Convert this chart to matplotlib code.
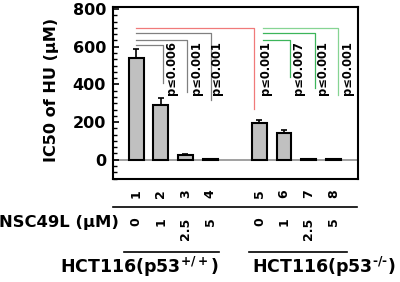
import matplotlib
matplotlib.use("Agg")
import matplotlib.pyplot as plt
from matplotlib.ticker import MultipleLocator, AutoMinorLocator
from matplotlib.lines import Line2D

plt.rcParams["font.family"] = "DejaVu Sans"
plt.rcParams["font.weight"] = "bold"
plt.rcParams["mathtext.default"] = "bf"

# dati
bar_ids = ["1", "2", "3", "4", "5", "6", "7", "8"]
conc = ["0", "1", "2.5", "5", "0", "1", "2.5", "5"]
ic50 = [542, 292, 23, 2, 197, 144, 2, 2]
err = [43, 38, 9, 0, 16, 12, 0, 0]
gruppi = ["HCT116(p53$^{+/+}$)", "HCT116(p53$^{‐/‐}$)"]

# parentesi di significativita'
p_txt = ["p≤0.006", "p≤0.001", "p≤0.001", "p≤0.001", "p≤0.007", "p≤0.001", "p≤0.001"]
brk_x0 = [1, 1, 1, 1, 6.15, 6.15, 6.15]
brk_x1 = [2.09, 3.07, 4.05, 5.77, 7.26, 8.24, 9.18]
brk_top = [608, 638, 670, 700, 638, 670, 700]
brk_bot = [407, 360, 315, 271, 439, 383, 342]
txt_x = [2.45, 3.46, 4.27, 6.24, 7.59, 8.54, 9.56]
brk_col = ["#808080", "#808080", "#808080", "#f07a7a",
           "#3cb55a", "#3cb55a", "#86d493"]

W, H = 400, 282
fig = plt.figure(figsize=(W / 100, H / 100), dpi=100)
ax = fig.add_axes([113 / W, 1 - 179 / H, 245 / W, 172.3 / H])

xpos = [i + 1 + (i >= 4) for i in range(len(ic50))]
ax.axhline(0, color="#909090", lw=1.2, zorder=1)
ax.bar(xpos, ic50, width=0.6, color="#c0c0c0", edgecolor="black",
       linewidth=1.5, zorder=3)
ax.errorbar(xpos, ic50, yerr=[[0] * len(err), err], fmt="none",
            ecolor="black", elinewidth=1.2, capsize=2.5, capthick=1.2, zorder=2)

for x0, x1, yt, yb, c, t, tx in zip(brk_x0, brk_x1, brk_top, brk_bot,
                                   brk_col, p_txt, txt_x):
    ax.plot([x0, x1, x1], [yt, yt, yb], color=c, lw=0.9, zorder=2)
    ax.text(tx, 628, t, rotation=90, ha="center", va="top",
            fontsize=8.3, fontweight="bold")

ax.set_xlim(0.06, 10.0)
ax.set_ylim(-102, 812)
ax.set_xticks([])
ax.yaxis.set_major_locator(MultipleLocator(200))
ax.yaxis.set_minor_locator(AutoMinorLocator(6))
ax.tick_params(axis="y", which="both", direction="in", labelsize=11.5, pad=5)
ax.tick_params(axis="y", which="major", length=4, width=1.2)
ax.tick_params(axis="y", which="minor", length=3, width=1.0)
for s in ax.spines.values():
    s.set_linewidth(1.5)
for lab in ax.get_yticklabels():
    lab.set_fontweight("bold")

ax.set_ylabel("IC50 of HU (μM)", fontsize=11.6, fontweight="bold")
ax.yaxis.set_label_coords(-0.222, 0.515)

# etichette sotto l'asse
tr = ax.get_xaxis_transform()
for x, b, c in zip(xpos, bar_ids, conc):
    ax.text(x, -0.06, b, transform=tr, rotation=90, ha="center", va="top",
            fontsize=9, fontweight="bold")
    ax.text(x, -0.222, c, transform=tr, rotation=90, ha="center", va="top",
            fontsize=9, fontweight="bold")

fig.add_artist(Line2D([113 / W, 357 / W], [1 - 207.3 / H] * 2,
                      color="black", lw=1.2))
fig.text(119 / W, 1 - 222 / H, "NSC49L (μM)", ha="right", va="center",
         fontsize=11.8, fontweight="bold")
for (a, b) in [(124, 219.3), (249.3, 346.7)]:
    fig.add_artist(Line2D([a / W, b / W], [1 - 251.7 / H] * 2,
                          color="black", lw=1.2))
for cx, g in zip([139.5, 324], gruppi):
    fig.text(cx / W, 1 - 266.7 / H, g, ha="center", va="center",
             fontsize=12.5, fontweight="bold")

fig.savefig("out.png", dpi=100)
